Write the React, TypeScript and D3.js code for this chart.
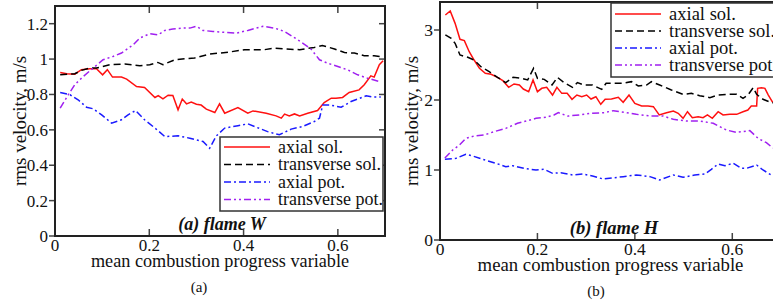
import React from "react";
import * as d3 from "d3";

// [progress variable, rms velocity] pairs
// (a) flame W
const axialSolW = [
  [0.011, 0.924], [0.025, 0.917], [0.042, 0.915], [0.056, 0.94], [0.074, 0.945], [0.088, 0.945],
  [0.101, 0.911], [0.111, 0.94], [0.122, 0.898], [0.141, 0.898], [0.152, 0.887], [0.173, 0.845],
  [0.19, 0.84], [0.212, 0.783], [0.219, 0.794], [0.229, 0.775], [0.24, 0.796], [0.25, 0.794],
  [0.261, 0.713], [0.27, 0.774], [0.279, 0.747], [0.289, 0.757], [0.3, 0.745], [0.31, 0.74],
  [0.321, 0.717], [0.339, 0.698], [0.349, 0.747], [0.36, 0.694], [0.388, 0.726], [0.409, 0.694],
  [0.42, 0.707], [0.448, 0.694], [0.469, 0.679], [0.48, 0.666], [0.487, 0.689], [0.497, 0.679],
  [0.508, 0.69], [0.519, 0.679], [0.536, 0.694], [0.557, 0.709], [0.571, 0.754], [0.586, 0.779],
  [0.596, 0.779], [0.61, 0.783], [0.624, 0.811], [0.645, 0.826], [0.656, 0.855], [0.67, 0.905],
  [0.677, 0.898], [0.688, 0.968], [0.696, 0.99],
];
const transSolW = [
  [0.011, 0.911], [0.042, 0.917], [0.056, 0.936], [0.074, 0.949], [0.088, 0.949], [0.116, 0.968],
  [0.148, 0.972], [0.18, 0.962], [0.201, 0.968], [0.218, 0.981], [0.229, 0.968], [0.254, 0.996],
  [0.275, 1.002], [0.296, 1.006], [0.328, 1.028], [0.37, 1.04], [0.402, 1.053], [0.444, 1.053],
  [0.466, 1.062], [0.487, 1.057], [0.519, 1.053], [0.55, 1.066], [0.567, 1.077], [0.593, 1.057],
  [0.614, 1.037], [0.635, 1.034], [0.656, 1.019], [0.677, 1.019], [0.696, 1.011],
];
const axialPotW = [
  [0.011, 0.811], [0.032, 0.798], [0.049, 0.77], [0.067, 0.728], [0.081, 0.719], [0.099, 0.685],
  [0.12, 0.638], [0.141, 0.657], [0.155, 0.685], [0.171, 0.709], [0.19, 0.657], [0.212, 0.61],
  [0.233, 0.562], [0.261, 0.566], [0.286, 0.553], [0.314, 0.534], [0.328, 0.496], [0.342, 0.565],
  [0.36, 0.61], [0.388, 0.623], [0.409, 0.634], [0.427, 0.615], [0.451, 0.59], [0.476, 0.572],
  [0.501, 0.604], [0.525, 0.619], [0.55, 0.647], [0.561, 0.666], [0.568, 0.741], [0.582, 0.741],
  [0.607, 0.728], [0.628, 0.76], [0.66, 0.792], [0.674, 0.785], [0.691, 0.785],
];
const transPotW = [
  [0.011, 0.723], [0.028, 0.798], [0.042, 0.855], [0.06, 0.902], [0.081, 0.949], [0.102, 0.996],
  [0.123, 1.015], [0.141, 1.034], [0.166, 1.081], [0.18, 1.119], [0.201, 1.143], [0.219, 1.137],
  [0.233, 1.162], [0.25, 1.17], [0.272, 1.175], [0.286, 1.175], [0.3, 1.185], [0.314, 1.162],
  [0.335, 1.156], [0.36, 1.151], [0.385, 1.147], [0.409, 1.162], [0.441, 1.185], [0.466, 1.175],
  [0.487, 1.156], [0.515, 1.109], [0.543, 1.057], [0.561, 0.996], [0.578, 0.977], [0.6, 0.958],
  [0.621, 0.939], [0.642, 0.911], [0.663, 0.892], [0.688, 0.873],
];

// (b) flame H
const axialSolH = [
  [0.011, 3.214], [0.021, 3.271], [0.031, 3.095], [0.041, 2.867], [0.05, 2.848], [0.06, 2.69],
  [0.07, 2.571], [0.081, 2.452], [0.093, 2.381], [0.105, 2.367], [0.118, 2.324], [0.129, 2.276],
  [0.141, 2.181], [0.152, 2.229], [0.163, 2.214], [0.171, 2.157], [0.182, 2.119], [0.191, 2.286],
  [0.2, 2.119], [0.209, 2.167], [0.219, 2.181], [0.231, 2.071], [0.24, 2.181], [0.25, 2.095],
  [0.261, 2.095], [0.271, 2.01], [0.281, 2.071], [0.291, 2.047], [0.301, 2.071], [0.31, 2.014],
  [0.32, 2.047], [0.33, 1.938], [0.339, 2.01], [0.352, 2.014], [0.366, 2.038], [0.376, 1.967],
  [0.388, 2.071], [0.4, 1.952], [0.414, 1.914], [0.427, 1.914], [0.438, 1.905], [0.45, 1.786],
  [0.465, 1.819], [0.479, 1.843], [0.489, 1.81], [0.499, 1.738], [0.508, 1.833], [0.518, 1.748],
  [0.53, 1.762], [0.54, 1.748], [0.549, 1.786], [0.559, 1.738], [0.571, 1.833], [0.581, 1.786],
  [0.595, 1.795], [0.609, 1.795], [0.622, 1.833], [0.632, 1.857], [0.639, 1.914], [0.65, 1.914],
  [0.652, 2.167], [0.66, 2.176], [0.667, 2.167], [0.674, 2.071], [0.682, 1.976], [0.7, 1.95],
];
const transSolH = [
  [0.011, 2.929], [0.023, 2.881], [0.031, 2.81], [0.041, 2.643], [0.057, 2.61], [0.07, 2.571],
  [0.084, 2.476], [0.101, 2.405], [0.118, 2.324], [0.135, 2.248], [0.15, 2.324], [0.166, 2.31],
  [0.18, 2.286], [0.192, 2.452], [0.2, 2.31], [0.214, 2.295], [0.23, 2.214], [0.241, 2.324],
  [0.255, 2.248], [0.272, 2.181], [0.282, 2.248], [0.296, 2.214], [0.313, 2.214], [0.332, 2.152],
  [0.341, 2.238], [0.352, 2.238], [0.376, 2.238], [0.393, 2.262], [0.407, 2.2], [0.424, 2.214],
  [0.434, 2.262], [0.451, 2.214], [0.475, 2.143], [0.499, 2.081], [0.516, 2.095], [0.533, 2.062],
  [0.554, 2.033], [0.571, 2.071], [0.588, 2.081], [0.609, 2.081], [0.622, 2.024], [0.632, 2.071],
  [0.643, 2.176], [0.65, 2.081], [0.663, 2.01], [0.68, 1.962], [0.7, 1.95],
];
const axialPotH = [
  [0.01, 1.152], [0.033, 1.167], [0.053, 1.224], [0.067, 1.2], [0.088, 1.152], [0.115, 1.095],
  [0.135, 1.048], [0.149, 1.062], [0.173, 1.024], [0.197, 1.0], [0.214, 1.01], [0.231, 0.952],
  [0.248, 0.962], [0.272, 0.929], [0.293, 0.943], [0.313, 0.914], [0.335, 0.871], [0.376, 0.905],
  [0.403, 0.929], [0.431, 0.905], [0.451, 0.857], [0.479, 0.929], [0.499, 0.895], [0.523, 0.929],
  [0.544, 0.943], [0.557, 1.01], [0.571, 1.086], [0.585, 1.062], [0.602, 1.095], [0.619, 1.024],
  [0.629, 1.024], [0.65, 1.071], [0.663, 1.0], [0.68, 0.929], [0.7, 0.9],
];
const transPotH = [
  [0.01, 1.17], [0.016, 1.214], [0.026, 1.286], [0.04, 1.357], [0.053, 1.452], [0.07, 1.486],
  [0.091, 1.5], [0.111, 1.548], [0.135, 1.595], [0.159, 1.667], [0.18, 1.705], [0.197, 1.738],
  [0.217, 1.752], [0.234, 1.786], [0.243, 1.819], [0.262, 1.771], [0.286, 1.786], [0.31, 1.81],
  [0.337, 1.819], [0.356, 1.848], [0.383, 1.819], [0.403, 1.795], [0.431, 1.771], [0.458, 1.771],
  [0.479, 1.724], [0.506, 1.7], [0.533, 1.7], [0.561, 1.667], [0.588, 1.571], [0.609, 1.538],
  [0.636, 1.562], [0.653, 1.452], [0.67, 1.39], [0.68, 1.333], [0.7, 1.25],
];

const legendLabels = ["axial sol.", "transverse sol.", "axial pot.", "transverse pot."];
const xTicks = [0, 0.2, 0.4, 0.6];
const yTicksW = [0, 0.2, 0.4, 0.6, 0.8, 1, 1.2];
const yTicksH = [0, 1, 2, 3];

const lineStyles = [
  { color: "#ff1010", dash: undefined },
  { color: "#000000", dash: "7,4" },
  { color: "#1a1aff", dash: "7,3,2,3" },
  { color: "#a020f0", dash: "7,3,2,3,2,3" },
];

const FONT = "'Liberation Serif', 'Times New Roman', serif";

function Panel(props) {
  const { id, xRange, yRange, yMax, yTicks, series, title, caption, legend, yLabelX } = props;
  const k = props.fontScale || 1;
  const x = d3.scaleLinear().domain([0, 0.7]).range(xRange);
  const y = d3.scaleLinear().domain([0, yMax]).range(yRange);
  const line = d3.line().x((d) => x(d[0])).y((d) => y(d[1]));
  const [x0, x1] = xRange;
  const [yb, yt] = yRange;
  const mid = (x0 + x1) / 2;

  return (
    <g fontFamily={FONT} fill="#111">
      <clipPath id={id}>
        <rect x={x0} y={yt} width={x1 - x0} height={yb - yt} />
      </clipPath>
      <g clipPath={`url(#${id})`}>
        {series.map((s, i) => (
          <path
            key={i}
            d={line(s)}
            fill="none"
            stroke={lineStyles[i].color}
            strokeWidth={1.5}
            strokeDasharray={lineStyles[i].dash}
          />
        ))}
      </g>

      {xTicks.map((t) => (
        <g key={"x" + t}>
          <line x1={x(t)} x2={x(t)} y1={yb} y2={yb - 7} stroke="#444" strokeWidth={1.5} />
          <line x1={x(t)} x2={x(t)} y1={yt} y2={yt + 7} stroke="#444" strokeWidth={1.5} />
          <text x={x(t)} y={yb + 15} textAnchor="middle" fontSize={17 * k}>
            {String(t)}
          </text>
        </g>
      ))}
      {yTicks.map((t) => (
        <g key={"y" + t}>
          <line x1={x0 - 6} x2={x0} y1={y(t)} y2={y(t)} stroke="#444" strokeWidth={1.5} />
          <line x1={x1} x2={x1 - 6} y1={y(t)} y2={y(t)} stroke="#444" strokeWidth={1.5} />
          <text x={x0 - 7} y={y(t) + 6} textAnchor="end" fontSize={17 * k}>
            {String(t)}
          </text>
        </g>
      ))}

      <rect x={x0} y={yt} width={x1 - x0} height={yb - yt} fill="none" stroke="#222" strokeWidth={2} />

      <text x={props.titleX} y={yb - 6} textAnchor="middle" fontSize={18 * k} fontWeight="bold" fontStyle="italic">
        {title}
      </text>

      <g>
        <rect x={legend.x} y={legend.y} width={legend.w} height={legend.h} fill="#fff" stroke="#333" strokeWidth={1.5} />
        {legendLabels.map((lab, i) => {
          const ly = legend.y + legend.row0 + i * legend.step;
          return (
            <g key={lab}>
              <line
                x1={legend.x + 4}
                x2={legend.x + 50}
                y1={ly}
                y2={ly}
                stroke={lineStyles[i].color}
                strokeWidth={1.5}
                strokeDasharray={lineStyles[i].dash}
              />
              <text x={legend.x + 58} y={ly + 5.5} fontSize={18 * k}>
                {lab}
              </text>
            </g>
          );
        })}
      </g>

      <text x={mid} y={yb + 31} textAnchor="middle" fontSize={18.2 * k}>
        mean combustion progress variable
      </text>
      <text transform={`translate(${yLabelX},${(yb + yt) / 2}) rotate(-90)`} textAnchor="middle" fontSize={19}>
        rms velocity, m/s
      </text>
      <text x={props.captionX} y={yb + 56} textAnchor="middle" fontSize={15}>
        {caption}
      </text>
    </g>
  );
}

export default function App() {
  return (
    <svg
      width={773}
      height={303}
      style={{ position: "absolute", left: 0, top: 0, background: "#fff" }}
    >
      <Panel
        id="clipW"
        xRange={[55, 385]}
        yRange={[236, 6]}
        yMax={1.3}
        yTicks={yTicksW}
        series={[axialSolW, transSolW, axialPotW, transPotW]}
        title="(a) flame W"
        titleX={222}
        caption="(a)"
        captionX={199}
        yLabelX={26}
        legend={{ x: 220, y: 137, w: 163, h: 74, row0: 10, step: 17.5 }}
      />
      <Panel
        id="clipH"
        xRange={[440, 781]}
        yRange={[240, 2]}
        yMax={3.4}
        yTicks={yTicksH}
        fontScale={1.03}
        series={[axialSolH, transSolH, axialPotH, transPotH]}
        title="(b) flame H"
        titleX={614}
        caption="(b)"
        captionX={596}
        yLabelX={418}
        legend={{ x: 611, y: 3, w: 200, h: 74, row0: 11, step: 17 }}
      />
    </svg>
  );
}
